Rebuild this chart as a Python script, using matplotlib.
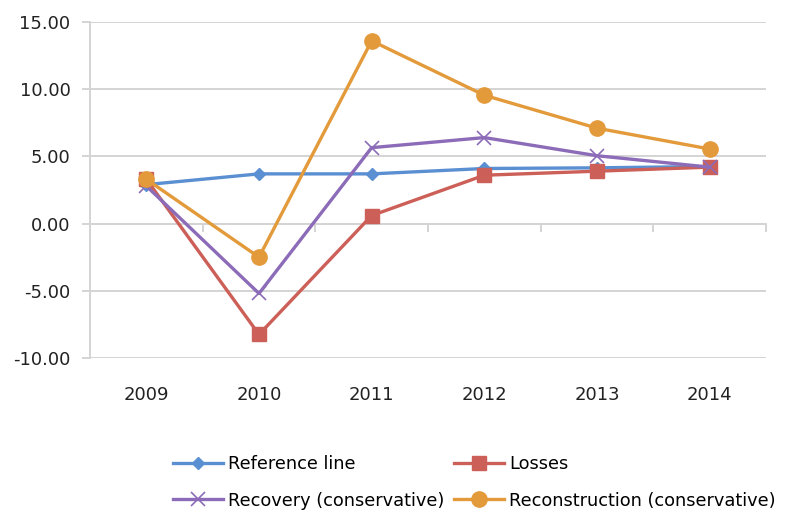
import numpy as np
import matplotlib.pyplot as plt
import matplotlib.transforms as mtransforms

years = ['2009', '2010', '2011', '2012', '2013', '2014']
reference = [2.9, 3.7, 3.7, 4.1, 4.15, 4.25]
losses = [3.3, -8.25, 0.6, 3.6, 3.9, 4.2]
recovery = [2.8, -5.2, 5.65, 6.4, 5.05, 4.2]
reconstruction = [3.3, -2.5, 13.6, 9.55, 7.1, 5.55]

series_names = ['Reference line', 'Losses', 'Recovery (conservative)',
                'Reconstruction (conservative)']
yticks = [-10, -5, 0, 5, 10, 15]

plt.rcParams['font.family'] = ['DejaVu Sans']
grid_col = '#d4d4d4'

fig = plt.figure(figsize=(7.92, 5.14), dpi=100)
ax = fig.add_axes([90/792, 1 - 358/514, 676/792, 336/514])

x = np.arange(len(years))
l1, = ax.plot(x, reference, color='#5a8fd2', lw=2.4, marker='D', ms=6.5,
              label=series_names[0], zorder=3)
l2, = ax.plot(x, losses, color='#cc5f57', lw=2.4, marker='s', ms=9.5,
              label=series_names[1], zorder=4)
l3, = ax.plot(x, recovery, color='#8c6cb8', lw=2.4, marker='x', ms=10, mew=1.2,
              label=series_names[2], zorder=5)
l4, = ax.plot(x, reconstruction, color='#e39a3a', lw=2.4, marker='o', ms=11,
              label=series_names[3], zorder=6)

ax.set_xlim(-0.5, len(years) - 0.5)
ax.set_ylim(-10, 15)
ax.set_yticks(yticks)
ax.set_yticklabels(['%.2f' % v for v in yticks], fontsize=13, color='#222222')
ax.yaxis.grid(True, color=grid_col, lw=1.4)
ax.set_axisbelow(True)

for s in ['top', 'right']:
    ax.spines[s].set_visible(False)
ax.spines['left'].set_color(grid_col)
ax.spines['left'].set_linewidth(1.4)
ax.spines['bottom'].set_position(('data', 0))
ax.spines['bottom'].set_color(grid_col)
ax.spines['bottom'].set_linewidth(1.4)

ax.set_xticks(np.arange(-0.5, len(years), 1.0))
ax.set_xticklabels([])
ax.tick_params(axis='x', length=6, width=1.4, color=grid_col)
ax.tick_params(axis='y', length=6, width=1.4, color=grid_col, pad=8)

trans = mtransforms.blended_transform_factory(ax.transData, ax.transAxes)
for i, yr in enumerate(years):
    ax.text(i, -0.11, yr, transform=trans, ha='center', va='center',
            fontsize=13, color='#222222')

# row-wise order: matplotlib fills legend columns first
handles = [l1, l3, l2, l4]
fig.legend(handles, [h.get_label() for h in handles],
           loc='upper left', bbox_to_anchor=(173/792, 1 - 455/514), ncol=2,
           frameon=False, fontsize=12.8, handlelength=2.8, handletextpad=0.3,
           columnspacing=0.55, labelspacing=1.05, borderpad=0, borderaxespad=0)

fig.savefig('out.png', dpi=100)
